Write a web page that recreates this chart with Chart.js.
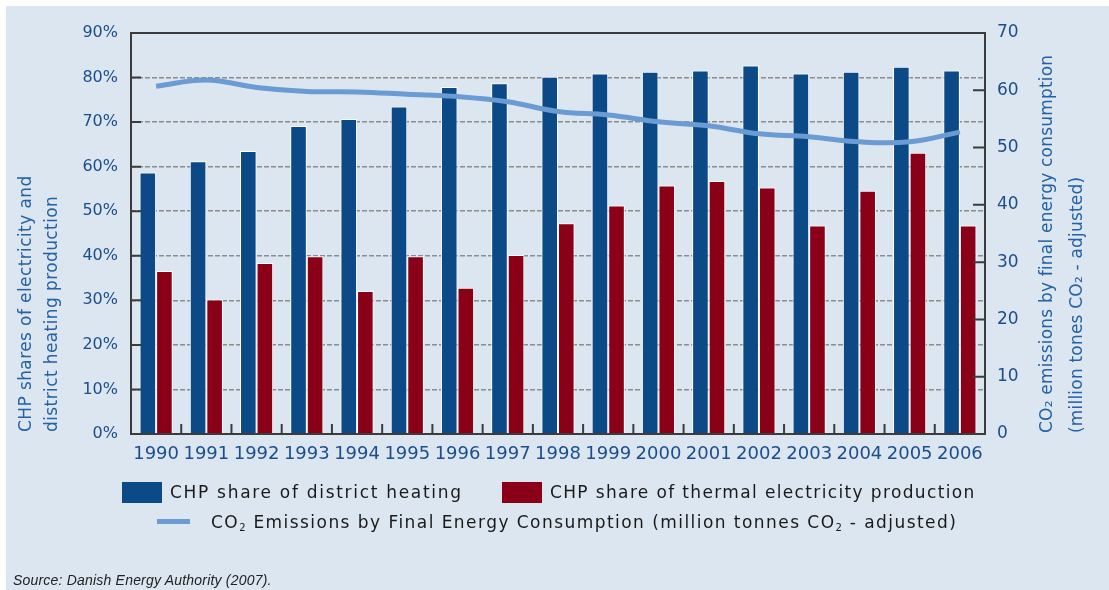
<!DOCTYPE html>
<html>
<head>
<meta charset="utf-8">
<script src="https://cdn.jsdelivr.net/npm/chart.js@4.4.1/dist/chart.umd.min.js"></script>
<style>
  html, body { margin:0; padding:0; background:#ffffff; }
  #wrap { position:relative; width:1109px; height:590px; overflow:hidden; background:#ffffff; }
  #panel { position:absolute; left:6px; top:6px; right:0; bottom:0; background:#dce6f0; }
  #c { position:absolute; left:0; top:0; }
  .lg { position:absolute; font-family:"DejaVu Sans", sans-serif; font-size:17px; color:#1a1a1a; white-space:nowrap; line-height:20px; }
  .lg sub { font-size:10px; vertical-align:-3px; line-height:0; letter-spacing:1px; }
  .box { position:absolute; }
  #src { position:absolute; left:13px; top:572px; font-family:"Liberation Sans", sans-serif; font-style:italic; font-size:14px; color:#222; white-space:nowrap; letter-spacing:0.2px; }
</style>
</head>
<body>
<div id="wrap">
  <div id="panel"></div>
  <canvas id="c" width="1109" height="590"></canvas>
  <div class="box" style="left:122px;top:482px;width:40px;height:21px;background:#0b4a86;"></div>
  <div class="lg" style="left:170px;top:482px;letter-spacing:1.7px;">CHP share of district heating</div>
  <div class="box" style="left:502px;top:482px;width:40px;height:21px;background:#8a0016;"></div>
  <div class="lg" style="left:550px;top:482px;letter-spacing:1.36px;">CHP share of thermal electricity production</div>
  <div class="box" style="left:157px;top:519px;width:33px;height:5px;background:#6a9bd2;"></div>
  <div class="lg" style="left:211px;top:512px;letter-spacing:1.45px;">CO<sub>2</sub> Emissions by Final Energy Consumption (million tonnes CO<sub>2</sub> - adjusted)</div>
  <div id="src">Source: Danish Energy Authority (2007).</div>
</div>
<script>
const years = ["1990","1991","1992","1993","1994","1995","1996","1997","1998","1999","2000","2001","2002","2003","2004","2005","2006"];
const districtHeating = [58.7, 61.2, 63.5, 69.1, 70.7, 73.5, 77.9, 78.7, 80.2, 80.9, 81.3, 81.6, 82.7, 80.9, 81.3, 82.4, 81.6];
const thermalElectricity = [36.6, 30.2, 38.4, 39.9, 32.1, 39.9, 32.8, 40.2, 47.3, 51.3, 55.8, 56.8, 55.3, 46.8, 54.6, 63.1, 46.8];
const co2Emissions = [60.7, 61.8, 60.5, 59.8, 59.7, 59.3, 58.9, 58.0, 56.3, 55.7, 54.5, 53.8, 52.4, 51.9, 51.0, 51.0, 52.7];
const leftTitle = ["CHP shares of electricity and", "district heating production"];
const rightTitle = ["CO₂ emissions by final energy consumption", "(million tones CO₂ - adjusted)"];

const tickColor = "#1b4e8c";
const titleColor = "#2462a3";

const framePlugin = {
  id: 'frame',
  afterDraw(chart) {
    const ctx = chart.ctx, a = chart.chartArea;
    const x = chart.scales.x, y = chart.scales.y, y1 = chart.scales.y1;
    ctx.save();
    ctx.strokeStyle = "#3c3c3c";
    ctx.lineWidth = 2;
    ctx.strokeRect(a.left, a.top, a.right - a.left, a.bottom - a.top);
    ctx.beginPath();
    y.ticks.forEach(t => {
      if (t.value > 0 && t.value < 90) {
        const py = y.getPixelForValue(t.value);
        ctx.moveTo(a.left, py); ctx.lineTo(a.left + 10, py);
      }
    });
    y1.ticks.forEach(t => {
      if (t.value > 0 && t.value < 70) {
        const py = y1.getPixelForValue(t.value);
        ctx.moveTo(a.right, py); ctx.lineTo(a.right - 12, py);
      }
    });
    for (let i = 1; i < years.length; i++) {
      const px = (x.getPixelForValue(i - 1) + x.getPixelForValue(i)) / 2;
      ctx.moveTo(px, a.bottom); ctx.lineTo(px, a.bottom - 10);
    }
    ctx.stroke();
    ctx.fillStyle = titleColor;
    ctx.font = '17px "DejaVu Sans"';
    ctx.textBaseline = 'middle';
    ctx.textAlign = 'left';
    const drawRot = (txt, cx, by) => {
      ctx.save();
      ctx.translate(cx, by);
      ctx.rotate(-Math.PI / 2);
      ctx.fillText(txt, 0, 0);
      ctx.restore();
    };
    ctx.letterSpacing = '0.4px';
    drawRot(leftTitle[0], 27, a.bottom - 2);
    drawRot(leftTitle[1], 53, a.bottom - 2);
    ctx.letterSpacing = '0.2px';
    drawRot(rightTitle[0], 1048, a.bottom - 1);
    drawRot(rightTitle[1], 1078, a.bottom - 1);
    ctx.restore();
  }
};

new Chart(document.getElementById('c'), {
  data: {
    labels: years,
    datasets: [
      { type: 'line', label: 'CO₂ Emissions by Final Energy Consumption (million tonnes CO₂ - adjusted)',
        data: co2Emissions, yAxisID: 'y1', borderColor: '#6a9bd2', borderWidth: 5,
        pointRadius: 0, tension: 0.4, order: 0, fill: false },
      { type: 'bar', label: 'CHP share of district heating', data: districtHeating, yAxisID: 'y',
        backgroundColor: '#0b4a86', borderColor: '#ffffff', borderWidth: 1,
        categoryPercentage: 0.66, barPercentage: 1.0, order: 1 },
      { type: 'bar', label: 'CHP share of thermal electricity production', data: thermalElectricity, yAxisID: 'y',
        backgroundColor: '#8a0016', borderColor: '#ffffff', borderWidth: 1,
        categoryPercentage: 0.66, barPercentage: 1.0, order: 1 }
    ]
  },
  options: {
    responsive: false,
    animation: false,
    layout: { padding: { top: 33, left: 0, right: 0, bottom: 0 } },
    plugins: { legend: { display: false }, tooltip: { enabled: false } },
    scales: {
      x: {
        offset: true,
        grid: { display: false, drawTicks: false },
        border: { display: false },
        ticks: { color: tickColor, font: { family: 'DejaVu Sans', size: 18 }, padding: 10, maxRotation: 0, autoSkip: false },
        afterFit(s) { s.height = 156; }
      },
      y: {
        position: 'left', min: 0, max: 90,
        grid: { color: '#8c8c8c', lineWidth: 1.5, drawTicks: false },
        border: { display: false, dash: [5, 2] },
        ticks: { stepSize: 10, color: tickColor, font: { family: 'DejaVu Sans', size: 16 }, padding: 13,
                 callback: v => v + '%' },
        afterFit(s) { s.width = 131; }
      },
      y1: {
        position: 'right', min: 0, max: 70,
        grid: { drawOnChartArea: false, drawTicks: false },
        border: { display: false },
        ticks: { stepSize: 10, color: tickColor, font: { family: 'DejaVu Sans', size: 17 }, padding: 12 },
        afterFit(s) { s.width = 124; }
      }
    }
  },
  plugins: [framePlugin]
});
</script>
</body>
</html>
